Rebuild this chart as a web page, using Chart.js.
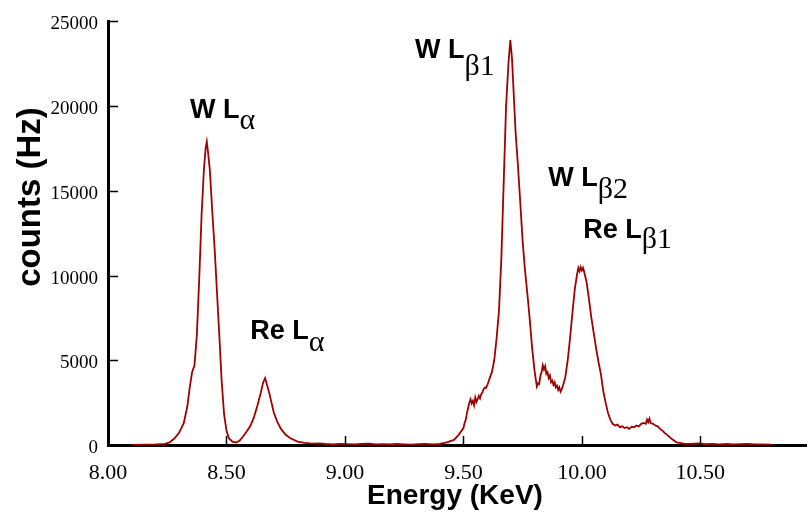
<!DOCTYPE html>
<html>
<head>
<meta charset="utf-8">
<script src="https://cdn.jsdelivr.net/npm/chart.js@4/dist/chart.umd.min.js"></script>
<style>
  html, body { margin: 0; padding: 0; background: #ffffff; }
  #wrap { width: 807px; height: 516px; }
</style>
</head>
<body>
<div id="wrap"><canvas id="c" width="807" height="516"></canvas></div>
<script>
// ---- data ----
const energy = [
  8.10, 8.16, 8.20, 8.24, 8.26, 8.28, 8.30, 8.32, 8.335, 8.345, 8.355, 8.365, 8.375, 8.385, 8.395, 8.405, 8.412, 8.417, 8.422, 8.43,
  8.44, 8.45, 8.46, 8.47, 8.48, 8.49, 8.50, 8.51, 8.525, 8.54, 8.555, 8.57, 8.585, 8.60, 8.615, 8.63, 8.645, 8.655, 8.663, 8.67,
  8.68, 8.69, 8.70, 8.715, 8.73, 8.75, 8.77, 8.80, 8.83, 8.86, 8.89, 8.92, 8.95, 8.98, 9.01, 9.04, 9.07, 9.10, 9.13, 9.16,
  9.19, 9.22, 9.25, 9.28, 9.31, 9.34, 9.37, 9.40, 9.43, 9.46, 9.48,
  9.500, 9.505, 9.510, 9.515, 9.520, 9.525, 9.530, 9.535, 9.540, 9.545, 9.550, 9.555, 9.560, 9.565, 9.570, 9.575, 9.580, 9.585, 9.590, 9.595,
  9.600, 9.605, 9.610, 9.615, 9.620,
  9.63, 9.64, 9.65, 9.66, 9.67, 9.68, 9.69, 9.698, 9.705, 9.712, 9.72, 9.73, 9.74, 9.75, 9.76, 9.77, 9.78, 9.79,
  9.800, 9.805, 9.810, 9.815, 9.820, 9.825, 9.830, 9.835, 9.840, 9.845, 9.850, 9.855, 9.860, 9.865, 9.870, 9.875, 9.880, 9.885, 9.890, 9.895,
  9.900, 9.905, 9.910, 9.915, 9.920, 9.925, 9.930,
  9.94, 9.95, 9.96, 9.97, 9.98, 9.985, 9.99, 9.995, 10.00, 10.005, 10.01, 10.02, 10.03, 10.04, 10.05, 10.06, 10.07, 10.08, 10.09, 10.10, 10.11,
  10.12, 10.13, 10.14, 10.15, 10.16, 10.17, 10.18, 10.19, 10.20, 10.21, 10.22, 10.23, 10.24, 10.25, 10.26, 10.27, 10.275, 10.28, 10.285, 10.29,
  10.30, 10.31, 10.32, 10.33, 10.34, 10.35, 10.36, 10.38, 10.40, 10.43, 10.46, 10.49, 10.52, 10.55, 10.58, 10.61, 10.64, 10.67, 10.70,
  10.73, 10.76, 10.80
];
const counts = [
  10, 20, 30, 70, 150, 380, 720, 1300, 2300, 3400, 4300, 4700, 6500, 9800, 13600, 16300, 17500, 17900, 17300, 16200,
  13800, 11600, 9000, 6400, 3700, 1800, 850, 400, 200, 150, 250, 500, 800, 1100, 1600, 2300, 3100, 3700, 3950, 3600,
  3100, 2500, 1900, 1350, 950, 600, 400, 200, 130, 80, 90, 60, 40, 70, 50, 30, 60, 80, 40, 50,
  30, 60, 40, 20, 50, 70, 40, 60, 150, 300, 600,
  1000, 1300, 1500, 1900, 2200, 2500, 2700, 2450, 2600, 2350, 2800, 2550, 2700, 2900, 2750, 3000, 3100, 3300, 3400, 3350,
  3500, 3700, 3900, 4100, 4300,
  5000, 6300, 7900, 11000, 15500, 20000, 22500, 23900, 22800, 20800, 18500, 16500, 14300, 12000, 10300, 8900, 7400, 5700,
  4400, 3900, 3450, 3650, 3600, 4100, 4300, 4700, 4450, 4650, 4200, 4300, 3950, 4100, 3700, 3800, 3550, 3700, 3400, 3500,
  3250, 3400, 3150, 3300, 3500, 3750, 4000,
  5000, 6300, 7800, 9200, 10100, 10450, 10250, 10500, 10300, 10450, 10200, 9600, 8600, 7500, 6600, 5700, 4900, 4200, 3200, 2500, 1900,
  1500, 1250, 1150, 1200, 1050, 1100, 1000, 1050, 950, 1080, 1050, 1150, 1100, 1250, 1300, 1250, 1500, 1350, 1550, 1300,
  1250, 1150, 1100, 950, 850, 700, 600, 350, 150, 80, 60, 90, 50, 70, 40, 60, 30, 50, 70,
  40, 30, 20
];
const xTickValues = [8.00, 8.50, 9.00, 9.50, 10.00, 10.50];
const yTickValues = [0, 5000, 10000, 15000, 20000, 25000];

// peak labels: main text, subscript, anchor (energy, counts)
const peakMain = ["W L", "Re L", "W L", "W L", "Re L"];
const peakSub  = ["\u03B1", "\u03B1", "\u03B21", "\u03B22", "\u03B21"];
const peakE    = [8.346, 8.600, 9.296, 9.858, 10.006];
const peakC    = [19290, 6270, 22820, 15280, 12220];
const peakSubDrop = [11, 12, 17, 12, 10];

const points = energy.map((e, i) => ({ x: e, y: counts[i] }));

const annotate = {
  id: 'annotate',
  afterDatasetsDraw(chart) {
    const ctx = chart.ctx;
    const xs = chart.scales.x, ys = chart.scales.y;
    const area = chart.chartArea;
    ctx.save();
    // inward tick marks
    ctx.strokeStyle = '#000';
    ctx.lineWidth = 1.5;
    xTickValues.forEach(v => {
      if (v === xs.min) return;
      const px = Math.round(xs.getPixelForValue(v)) + 0.5;
      ctx.beginPath(); ctx.moveTo(px, area.bottom); ctx.lineTo(px, area.bottom - 9); ctx.stroke();
    });
    yTickValues.forEach(v => {
      if (v === ys.min) return;
      const py = Math.round(ys.getPixelForValue(v)) + 0.5;
      ctx.beginPath(); ctx.moveTo(area.left, py); ctx.lineTo(area.left + 10, py); ctx.stroke();
    });
    // peak labels
    ctx.fillStyle = '#000';
    ctx.textBaseline = 'alphabetic';
    ctx.textAlign = 'left';
    peakMain.forEach((t, i) => {
      const px = xs.getPixelForValue(peakE[i]);
      const py = ys.getPixelForValue(peakC[i]);
      ctx.font = 'bold 27px "Liberation Sans", Arial, sans-serif';
      ctx.fillText(t, px, py);
      const w = ctx.measureText(t).width;
      ctx.font = '30px "Liberation Serif", "Times New Roman", serif';
      ctx.fillText(peakSub[i], px + w, py + peakSubDrop[i]);
    });
    // axis titles
    ctx.font = 'bold 28px "Liberation Sans", Arial, sans-serif';
    ctx.textAlign = 'center';
    ctx.textBaseline = 'alphabetic';
    ctx.fillText('Energy (KeV)', 455, 504);
    ctx.save();
    ctx.translate(40, 197);
    ctx.rotate(-Math.PI / 2);
    ctx.font = 'bold 33px "Liberation Sans", Arial, sans-serif';
    ctx.fillText('counts (Hz)', 0, 0);
    ctx.restore();
    ctx.restore();
  }
};

new Chart(document.getElementById('c'), {
  type: 'line',
  data: {
    datasets: [{
      data: points,
      borderColor: '#a00000',
      borderWidth: 1.8,
      pointRadius: 0,
      fill: false,
      tension: 0
    }]
  },
  options: {
    responsive: false,
    animation: false,
    devicePixelRatio: 1,
    layout: { padding: { top: 20, left: 0, right: 0, bottom: 0 } },
    plugins: { legend: { display: false }, tooltip: { enabled: false }, title: { display: false } },
    scales: {
      x: {
        type: 'linear',
        min: 8.0,
        max: 10.95,
        afterFit(s) { s.height = 71; },
        afterBuildTicks(s) { s.ticks = xTickValues.map(v => ({ value: v })); },
        ticks: {
          autoSkip: false, maxRotation: 0, padding: 15, color: '#000',
          font: { family: '"Liberation Serif", "Times New Roman", serif', size: 22 },
          callback: v => Number(v).toFixed(2)
        },
        grid: { drawOnChartArea: false, drawTicks: false },
        border: { display: true, color: '#000', width: 3 }
      },
      y: {
        type: 'linear',
        min: 0,
        max: 25000,
        afterFit(s) { s.width = 108; },
        afterBuildTicks(s) { s.ticks = yTickValues.map(v => ({ value: v })); },
        ticks: {
          padding: 10, color: '#000', labelOffset: 3,
          font: { family: '"Liberation Serif", "Times New Roman", serif', size: 19 },
          callback: v => String(v)
        },
        grid: { drawOnChartArea: false, drawTicks: false },
        border: { display: true, color: '#000', width: 3 }
      }
    }
  },
  plugins: [annotate]
});
</script>
</body>
</html>
